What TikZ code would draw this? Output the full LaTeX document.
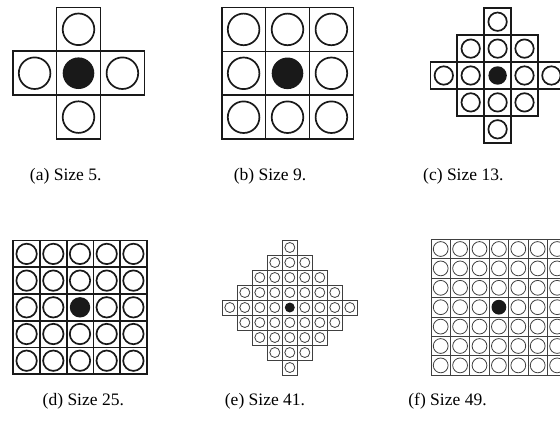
\documentclass[tikz,border=0pt]{standalone}
\usepackage{fontspec}
\setmainfont{Liberation Serif}
\usepackage{tikz}
\usetikzlibrary{positioning}

% one peg board: #1,#2 centre, #3 cell, #4 hole radius, #5 half size, #6 diamond (1) or square (0), #7 line style
\newcommand\pegboard[7]{%
  \foreach \i in {-#5,...,#5}{%
    \foreach \j in {-#5,...,#5}{%
      \pgfmathtruncatemacro\dist{#6==1 ? abs(\i)+abs(\j) : 0}%
      \pgfmathtruncatemacro\mid{abs(\i)+abs(\j)==0}%
      \ifnum\dist>#5\relax\else
        \draw[#7] ({#1+(\i-0.5)*#3},{#2+(\j-0.5)*#3}) rectangle ++(#3,#3);
        \ifnum\mid=1\relax
          \fill[black!90] ({#1+\i*#3},{#2+\j*#3}) circle (#4);
        \else
          \draw[#7] ({#1+\i*#3},{#2+\j*#3}) circle (#4);
        \fi
      \fi
    }%
  }%
}

\begin{document}
\begin{tikzpicture}[x=1pt, y=-1pt,
    heavy/.style={draw=black!90, line width=1.7pt},
    light/.style={draw=black!75, line width=0.8pt},
    caption/.style={inner sep=0pt, font=\fontsize{17.5}{20}\selectfont}]
  \useasboundingbox (0,0) rectangle (560,432);
  \clip (0,0) rectangle (560,432);
  % top row
  \pegboard{78.5}{73.2}{43.9}{15.8}{1}{1}{heavy}
  \pegboard{287.5}{73.3}{43.9}{15.8}{1}{0}{heavy}
  \pegboard{497.6}{75.5}{26.9}{9.2}{2}{1}{heavy}
  % bottom row
  \pegboard{80}{307.3}{26.7}{10.2}{2}{0}{heavy}
  \pegboard{289.8}{307.5}{15}{5}{4}{1}{light}
  \pegboard{498.9}{307.2}{19.4}{7.4}{3}{0}{light}
  % captions
  \node[caption] (capa) at (65.7,176.5) {(a) Size 5.};
  \node[caption] (capb) at (270,176.5) {(b) Size 9.};
  \node[caption] (capc) at (463.3,176.5) {(c) Size 13.};
  \node[caption] (capd) at (83.3,401) {(d) Size 25.};
  \node[caption] (cape) at (265,401) {(e) Size 41.};
  \node[caption] (capf) at (447.5,401) {(f) Size 49.};
\end{tikzpicture}
\end{document}
